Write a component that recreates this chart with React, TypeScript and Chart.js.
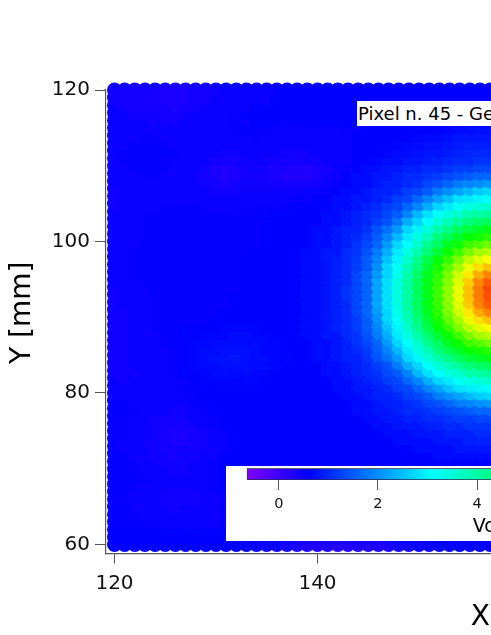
import React, { useEffect, useRef } from "react";
import { Chart, registerables } from "chart.js";

Chart.register(...registerables);

const xValues = [120,121,122,123,124,125,126,127,128,129,130,131,132,133,134,135,136,137,138,139,140,141,142,143,144,145,146,147,148,149,150,151,152,153,154,155,156,157];
const yValues = [120,119,118,117,116,115,114,113,112,111,110,109,108,107,106,105,104,103,102,101,100,99,98,97,96,95,94,93,92,91,90,89,88,87,86,85,84,83,82,81,80,79,78,77,76,75,74,73,72,71,70,69,68,67,66,65,64,63,62,61,60];
// One row per entry of yValues, one value per entry of xValues (volts).
const voltageRows = [
[.45,.4,.4,.4,.4,.35,.35,.35,.4,.4,.45,.5,.5,.5,.5,.5,.55,.6,.6,.6,.6,.6,.6,.6,.6,.6,.6,.6,.6,.6,.6,.6,.6,.6,.6,.6,.6,.6],
[.45,.4,.4,.4,.4,.35,.35,.35,.4,.4,.5,.5,.5,.5,.5,.5,.6,.6,.6,.6,.6,.6,.6,.6,.6,.6,.6,.6,.6,.6,.6,.6,.6,.6,.6,.6,.6,.6],
[.5,.45,.4,.4,.4,.4,.35,.4,.45,.5,.5,.5,.5,.5,.6,.6,.6,.6,.6,.6,.6,.6,.6,.6,.6,.6,.6,.6,.6,.6,.6,.6,.6,.6,.6,.6,.6,.6],
[.5,.5,.45,.45,.45,.4,.4,.45,.5,.5,.5,.5,.55,.6,.6,.6,.6,.6,.6,.6,.6,.6,.6,.6,.6,.6,.6,.6,.6,.6,.6,.6,.6,.6,.6,.6,.65,.65],
[.5,.5,.5,.5,.45,.45,.45,.5,.5,.5,.5,.5,.55,.55,.6,.6,.6,.55,.55,.55,.55,.6,.6,.6,.6,.6,.6,.6,.6,.6,.6,.6,.6,.65,.65,.7,.7,.7],
[.5,.5,.5,.5,.5,.5,.5,.5,.5,.5,.5,.5,.55,.55,.55,.55,.5,.5,.5,.5,.5,.5,.5,.55,.55,.6,.6,.6,.6,.6,.6,.6,.6,.65,.7,.7,.75,.75],
[.5,.5,.5,.55,.55,.5,.5,.5,.5,.5,.5,.5,.5,.5,.55,.5,.5,.5,.5,.5,.5,.5,.5,.5,.6,.6,.6,.6,.6,.6,.65,.7,.7,.75,.8,.8,.8,.8],
[.5,.5,.55,.55,.55,.55,.5,.5,.5,.5,.5,.5,.5,.5,.5,.5,.5,.5,.5,.5,.5,.5,.5,.5,.6,.6,.6,.6,.65,.7,.7,.75,.75,.8,.85,.9,.9,.9],
[.5,.55,.55,.55,.55,.55,.55,.5,.5,.5,.5,.45,.45,.5,.5,.5,.5,.45,.45,.45,.5,.5,.5,.5,.6,.6,.6,.65,.7,.7,.75,.8,.8,.85,.9,.95,1,1],
[.5,.55,.55,.55,.55,.55,.5,.5,.5,.5,.4,.4,.4,.45,.5,.45,.4,.4,.4,.4,.4,.5,.5,.5,.6,.6,.65,.7,.7,.8,.8,.85,.9,.95,1,1,1.1,1.1],
[.5,.5,.55,.55,.55,.55,.5,.5,.5,.45,.35,.3,.35,.4,.45,.4,.35,.35,.3,.3,.35,.4,.5,.55,.6,.7,.7,.8,.8,.9,.9,1,1,1.1,1.2,1.2,1.3,1.3],
[.5,.5,.5,.55,.55,.5,.5,.5,.5,.4,.35,.3,.35,.4,.4,.4,.35,.3,.3,.3,.35,.45,.5,.6,.7,.7,.8,.8,.9,1,1,1.1,1.2,1.3,1.4,1.5,1.6,1.6],
[.5,.5,.5,.5,.5,.5,.5,.5,.5,.45,.4,.35,.4,.45,.45,.45,.4,.4,.4,.4,.4,.5,.55,.6,.7,.7,.8,.9,.9,1,1.1,1.3,1.4,1.6,1.8,1.9,2,2.1],
[.45,.5,.5,.5,.5,.5,.5,.5,.5,.5,.45,.45,.45,.5,.5,.5,.5,.5,.5,.5,.5,.55,.6,.7,.7,.8,.9,.9,1,1.2,1.3,1.5,1.8,2,2.2,2.4,2.6,2.7],
[.45,.5,.5,.5,.5,.5,.5,.5,.5,.5,.5,.5,.5,.5,.5,.5,.5,.5,.55,.55,.6,.6,.7,.7,.8,.8,.9,1,1.2,1.3,1.6,1.9,2.2,2.5,2.8,2.9,3,3.1],
[.45,.5,.5,.5,.5,.55,.55,.55,.55,.5,.5,.5,.5,.5,.55,.55,.55,.55,.6,.6,.6,.65,.7,.7,.8,.9,1,1.2,1.3,1.6,1.9,2.3,2.7,2.9,3.2,3.4,3.5,3.6],
[.5,.5,.5,.55,.55,.55,.55,.55,.55,.55,.55,.55,.55,.55,.55,.55,.6,.6,.6,.6,.6,.7,.7,.8,.9,1,1.1,1.3,1.5,1.9,2.4,2.8,3.1,3.4,3.6,3.9,4,4.1],
[.5,.5,.5,.55,.55,.55,.55,.55,.55,.55,.55,.55,.55,.55,.55,.6,.6,.6,.6,.6,.6,.7,.7,.8,.9,1,1.2,1.4,1.8,2.3,2.7,3.1,3.5,3.8,4.1,4.4,4.6,4.7],
[.5,.5,.5,.55,.55,.55,.55,.55,.55,.55,.55,.55,.55,.55,.55,.6,.6,.6,.6,.6,.7,.7,.8,.9,.9,1.1,1.4,1.7,2.1,2.7,3,3.5,3.9,4.3,4.7,5,5.2,5.4],
[.5,.5,.5,.55,.55,.55,.55,.55,.55,.55,.55,.55,.55,.55,.55,.6,.6,.6,.6,.6,.7,.7,.8,.9,1,1.2,1.5,1.9,2.4,2.9,3.4,3.8,4.4,4.8,5.2,5.6,5.8,6],
[.5,.5,.5,.55,.55,.55,.55,.55,.55,.55,.55,.55,.55,.55,.55,.6,.6,.6,.6,.6,.7,.7,.8,.9,1.1,1.3,1.6,2.1,2.7,3.1,3.6,4.2,4.7,5.3,5.7,6.2,6.4,6.7],
[.5,.5,.55,.55,.55,.55,.55,.55,.55,.55,.55,.55,.55,.55,.6,.6,.6,.6,.6,.7,.7,.8,.8,1,1.1,1.4,1.8,2.3,2.9,3.4,3.9,4.5,5.1,5.7,6.2,6.8,7.2,7.4],
[.5,.5,.55,.55,.55,.55,.55,.55,.55,.55,.55,.55,.55,.6,.6,.6,.6,.6,.6,.7,.7,.8,.9,1,1.2,1.5,1.9,2.5,3,3.6,4.2,4.9,5.5,6.1,6.8,7.4,7.8,8.1],
[.5,.5,.55,.55,.55,.55,.55,.55,.55,.55,.55,.55,.55,.6,.6,.6,.6,.6,.6,.7,.7,.8,.9,1,1.2,1.5,2,2.7,3.2,3.8,4.4,5.1,5.8,6.5,7.2,7.9,8.4,8.7],
[.5,.5,.55,.55,.55,.55,.55,.55,.55,.55,.55,.55,.55,.6,.6,.6,.6,.6,.6,.7,.7,.8,.9,1,1.3,1.6,2.1,2.7,3.3,3.9,4.6,5.3,6,6.8,7.6,8.3,8.9,9.3],
[.5,.5,.5,.55,.55,.55,.55,.55,.55,.55,.55,.55,.55,.6,.6,.6,.6,.6,.6,.7,.7,.8,.9,1,1.3,1.6,2.2,2.8,3.4,4,4.7,5.4,6.1,6.9,7.8,8.6,9.3,9.7],
[.45,.5,.5,.5,.55,.55,.55,.55,.55,.55,.55,.55,.55,.6,.6,.6,.6,.6,.6,.7,.7,.8,.9,1.1,1.3,1.6,2.2,2.8,3.4,4,4.7,5.4,6.2,7,7.9,8.7,9.4,9.9],
[.45,.5,.5,.5,.55,.55,.55,.55,.55,.55,.55,.55,.6,.6,.6,.6,.6,.6,.6,.7,.7,.8,.9,1.1,1.3,1.6,2.2,2.8,3.4,4,4.7,5.4,6.2,7,7.9,8.7,9.4,9.8],
[.45,.5,.5,.5,.55,.55,.55,.55,.55,.55,.55,.55,.6,.6,.6,.6,.6,.6,.6,.7,.7,.8,.9,1,1.3,1.6,2.2,2.8,3.4,4,4.7,5.4,6.1,6.9,7.8,8.6,9.3,9.7],
[.45,.45,.5,.5,.55,.55,.55,.55,.55,.55,.55,.6,.6,.6,.6,.6,.6,.6,.6,.7,.7,.8,.9,1,1.3,1.6,2.1,2.7,3.3,3.9,4.6,5.3,6,6.8,7.6,8.3,8.9,9.3],
[.45,.45,.5,.5,.55,.55,.55,.55,.55,.55,.6,.6,.6,.6,.6,.6,.6,.6,.6,.7,.7,.8,.9,1,1.2,1.5,2,2.7,3.2,3.8,4.4,5.1,5.8,6.5,7.2,7.9,8.4,8.7],
[.45,.45,.5,.5,.55,.55,.55,.6,.6,.6,.6,.65,.65,.65,.65,.6,.6,.6,.6,.7,.7,.8,.9,1,1.2,1.5,1.9,2.5,3,3.6,4.2,4.9,5.5,6.1,6.8,7.4,7.8,8.1],
[.45,.45,.5,.5,.5,.55,.55,.6,.6,.65,.65,.65,.7,.7,.65,.65,.6,.6,.6,.7,.7,.8,.8,1,1.1,1.4,1.8,2.3,2.9,3.4,3.9,4.5,5.1,5.7,6.2,6.8,7.2,7.4],
[.45,.45,.5,.5,.5,.55,.55,.6,.65,.65,.7,.7,.7,.7,.7,.65,.65,.6,.6,.6,.7,.7,.8,.9,1.1,1.3,1.6,2.1,2.7,3.1,3.6,4.2,4.7,5.3,5.7,6.2,6.4,6.7],
[.45,.45,.5,.5,.5,.5,.55,.6,.65,.7,.7,.75,.75,.75,.7,.65,.65,.6,.6,.6,.7,.7,.8,.9,1,1.2,1.5,1.9,2.4,2.9,3.4,3.8,4.4,4.8,5.2,5.6,5.8,6],
[.45,.45,.5,.5,.5,.5,.55,.6,.65,.7,.75,.75,.8,.75,.7,.7,.65,.65,.6,.6,.7,.7,.8,.9,.9,1.1,1.4,1.7,2.1,2.7,3,3.5,3.9,4.3,4.7,5,5.2,5.4],
[.45,.45,.5,.5,.5,.5,.55,.6,.65,.7,.7,.75,.75,.75,.7,.7,.65,.6,.6,.6,.6,.7,.7,.8,.9,1,1.2,1.4,1.8,2.3,2.7,3.1,3.5,3.8,4.1,4.4,4.6,4.7],
[.45,.45,.45,.5,.5,.5,.55,.6,.6,.65,.7,.7,.7,.7,.65,.65,.6,.6,.6,.6,.6,.7,.7,.8,.9,1,1.1,1.3,1.5,1.9,2.4,2.8,3.1,3.4,3.6,3.9,4,4.1],
[.5,.45,.5,.5,.5,.5,.5,.55,.6,.6,.65,.65,.65,.65,.65,.6,.6,.6,.6,.6,.6,.6,.7,.7,.8,.9,1,1.2,1.3,1.6,1.9,2.3,2.7,2.9,3.2,3.4,3.5,3.6],
[.5,.5,.5,.5,.5,.5,.5,.55,.55,.6,.6,.6,.6,.6,.6,.6,.6,.6,.6,.6,.6,.6,.7,.7,.8,.8,.9,1,1.2,1.3,1.6,1.9,2.2,2.5,2.8,2.9,3,3.1],
[.5,.5,.5,.5,.5,.5,.5,.55,.55,.6,.6,.6,.6,.6,.6,.6,.6,.6,.6,.6,.6,.6,.6,.7,.7,.8,.9,.9,1,1.2,1.3,1.5,1.8,2,2.2,2.4,2.6,2.7],
[.55,.55,.5,.5,.5,.5,.5,.5,.55,.55,.6,.6,.6,.6,.6,.6,.6,.6,.6,.6,.6,.6,.6,.6,.7,.7,.8,.9,.9,1,1.1,1.3,1.4,1.6,1.8,1.9,2,2.1],
[.55,.55,.55,.5,.5,.5,.45,.45,.5,.55,.6,.6,.6,.6,.6,.6,.6,.6,.6,.6,.6,.6,.6,.6,.7,.7,.8,.8,.9,1,1,1.1,1.2,1.3,1.4,1.5,1.6,1.6],
[.55,.55,.5,.5,.45,.45,.45,.45,.5,.5,.55,.6,.6,.6,.6,.6,.6,.6,.6,.6,.6,.6,.6,.6,.6,.7,.7,.8,.8,.9,.9,1,1,1.1,1.2,1.2,1.3,1.3],
[.55,.55,.5,.5,.45,.4,.4,.4,.45,.5,.55,.6,.6,.6,.6,.6,.6,.6,.6,.6,.6,.6,.6,.6,.6,.6,.7,.7,.8,.8,.8,.9,.9,1,1,1.1,1.1,1.1],
[.55,.55,.5,.5,.45,.4,.35,.35,.4,.45,.5,.55,.6,.6,.6,.6,.6,.6,.6,.6,.6,.6,.6,.6,.6,.6,.6,.7,.7,.7,.8,.8,.8,.9,.9,.9,1,1],
[.55,.5,.5,.5,.45,.4,.35,.35,.4,.45,.5,.55,.6,.6,.6,.6,.6,.6,.6,.6,.6,.6,.6,.6,.6,.6,.6,.6,.7,.7,.7,.7,.8,.8,.8,.9,.9,.9],
[.55,.5,.5,.5,.45,.4,.4,.4,.4,.45,.5,.55,.6,.6,.6,.6,.6,.6,.6,.6,.6,.6,.6,.6,.6,.6,.6,.6,.6,.6,.7,.7,.7,.7,.8,.8,.8,.8],
[.55,.55,.5,.5,.45,.45,.4,.45,.45,.5,.5,.6,.6,.6,.6,.6,.6,.6,.6,.6,.6,.6,.6,.6,.6,.6,.6,.6,.6,.6,.6,.6,.7,.7,.7,.7,.7,.7],
[.55,.55,.55,.5,.5,.45,.45,.45,.5,.5,.55,.6,.6,.6,.6,.6,.6,.6,.6,.6,.6,.6,.6,.6,.6,.6,.6,.6,.6,.6,.6,.6,.6,.6,.6,.6,.6,.6],
[.55,.55,.55,.5,.5,.5,.45,.45,.5,.5,.55,.6,.6,.6,.6,.6,.6,.6,.6,.6,.6,.6,.6,.6,.6,.6,.6,.6,.6,.6,.6,.6,.6,.6,.6,.6,.6,.6],
[.55,.55,.55,.55,.5,.5,.5,.5,.5,.5,.55,.6,.6,.6,.6,.6,.6,.6,.6,.6,.6,.6,.6,.6,.6,.6,.6,.6,.6,.6,.6,.6,.6,.6,.6,.6,.6,.6],
[.55,.55,.55,.5,.5,.5,.5,.5,.5,.5,.55,.6,.6,.6,.6,.6,.6,.6,.6,.6,.6,.6,.6,.6,.6,.6,.6,.6,.6,.6,.6,.6,.6,.6,.6,.6,.6,.6],
[.55,.55,.5,.5,.5,.45,.45,.45,.45,.5,.5,.55,.6,.6,.6,.6,.6,.6,.6,.6,.6,.6,.6,.6,.6,.6,.6,.6,.6,.6,.6,.6,.6,.6,.6,.6,.6,.6],
[.55,.55,.5,.5,.5,.45,.45,.45,.45,.5,.5,.55,.6,.6,.6,.6,.6,.6,.6,.6,.6,.6,.6,.6,.6,.6,.6,.6,.6,.6,.6,.6,.6,.6,.6,.6,.6,.6],
[.55,.55,.55,.5,.5,.5,.45,.5,.5,.5,.5,.55,.6,.6,.6,.6,.6,.6,.6,.6,.6,.6,.6,.6,.6,.6,.6,.6,.6,.6,.6,.6,.6,.6,.6,.6,.6,.6],
[.55,.55,.55,.5,.5,.5,.5,.5,.5,.5,.5,.55,.6,.6,.6,.6,.6,.6,.6,.6,.6,.6,.6,.6,.6,.6,.6,.6,.6,.6,.6,.6,.6,.6,.6,.6,.6,.6],
[.55,.55,.55,.55,.55,.5,.5,.5,.5,.5,.5,.55,.6,.6,.6,.6,.6,.6,.6,.6,.6,.6,.6,.6,.6,.6,.6,.6,.6,.6,.6,.6,.6,.6,.6,.6,.6,.6],
[.6,.6,.6,.6,.6,.6,.6,.6,.6,.6,.6,.6,.6,.6,.6,.6,.6,.6,.6,.6,.6,.6,.6,.6,.6,.6,.6,.6,.6,.6,.6,.6,.6,.6,.6,.6,.6,.6],
[.6,.6,.6,.6,.6,.6,.6,.6,.6,.6,.6,.6,.6,.6,.55,.5,.5,.45,.4,.4,.35,.35,.35,.35,.4,.4,.4,.45,.5,.5,.5,.55,.6,.6,.6,.6,.6,.6],
[.6,.6,.6,.6,.6,.6,.6,.6,.6,.6,.6,.6,.6,.6,.55,.5,.5,.4,.35,.3,.3,.3,.25,.25,.3,.3,.3,.35,.4,.45,.5,.5,.55,.6,.6,.6,.6,.6],
];
const xTicks = [120, 140, 160, 180, 200];
const yTicks = [60, 80, 100, 120];
const colorbarTicks = [0, 2, 4, 6, 8, 10];
const colorStops = [
  { z: -0.65, rgb: [128, 0, 255] },
  { z: 0.6, rgb: [0, 0, 255] },
  { z: 3.1, rgb: [0, 255, 255] },
  { z: 5.6, rgb: [0, 255, 0] },
  { z: 8.1, rgb: [255, 255, 0] },
  { z: 10.6, rgb: [255, 0, 0] },
];
const annotation = "Pixel n. 45 - Ge";
const FONT = "'DejaVu Sans'";
const AXIS_GRAY = "#555555";

function colorOf(z: number) {
  for (let i = 1; i < colorStops.length; i++) {
    const a = colorStops[i - 1];
    const b = colorStops[i];
    if (z <= b.z) {
      const t = Math.max(0, (z - a.z) / (b.z - a.z));
      const c = a.rgb.map((v, k) => Math.round(v + (b.rgb[k] - v) * t));
      return `rgb(${c[0]},${c[1]},${c[2]})`;
    }
  }
  return "rgb(255,0,0)";
}

export default function App() {
  const mainRef = useRef<HTMLCanvasElement>(null);
  const barRef = useRef<HTMLCanvasElement>(null);

  useEffect(() => {
    const points: { x: number; y: number; v: number }[] = [];
    for (let r = yValues.length - 1; r >= 0; r--) {
      xValues.forEach((x, c) => points.push({ x, y: yValues[r], v: voltageRows[r][c] }));
    }
    const main = new Chart(mainRef.current!, {
      type: "scatter",
      data: {
        datasets: [{
          data: points,
          pointRadius: 7.5,
          pointHoverRadius: 7.5,
          pointBorderWidth: 0,
          pointBackgroundColor: points.map((p) => colorOf(p.v)),
          clip: false,
        }],
      },
      options: {
        responsive: false,
        animation: false,
        layout: { padding: { top: 90, right: 20, left: 0, bottom: 0 } },
        plugins: { legend: { display: false }, tooltip: { enabled: false } },
        scales: {
          x: {
            type: "linear",
            min: 119.163,
            max: 201.33,
            afterFit: (s: any) => { s.height = 81.5; },
            afterBuildTicks: (s: any) => { s.ticks = xTicks.map((value) => ({ value })); },
            border: { display: true, color: AXIS_GRAY, width: 1.2 },
            grid: { drawOnChartArea: false, drawTicks: true, tickLength: 10, tickColor: AXIS_GRAY },
            ticks: { color: "#111", font: { family: FONT, size: 20 }, padding: 8, maxRotation: 0, autoSkip: false },
            title: { display: true, text: "X [mm]", color: "#000", font: { family: FONT, size: 28 }, padding: { top: 0, bottom: 0 } },
          },
          y: {
            type: "linear",
            min: 58.81,
            max: 120,
            afterFit: (s: any) => { s.width = 106; },
            afterBuildTicks: (s: any) => { s.ticks = yTicks.map((value) => ({ value })); },
            border: { display: true, color: AXIS_GRAY, width: 1.2 },
            grid: { drawOnChartArea: false, drawTicks: true, tickLength: 11, tickColor: AXIS_GRAY },
            ticks: { color: "#111", font: { family: FONT, size: 20 }, padding: 5, autoSkip: false },
            title: { display: true, text: "\u00a0\u00a0Y [mm]", color: "#000", font: { family: FONT, size: 28 }, padding: { top: 6, bottom: 0 } },
          },
        },
      },
    } as any);

    const bar = new Chart(barRef.current!, {
      type: "bar",
      data: {
        labels: ["colour scale"],
        datasets: [{
          data: [[colorStops[0].z, colorStops[colorStops.length - 1].z]],
          barPercentage: 1,
          categoryPercentage: 1,
          borderColor: "#2a2a55",
          borderWidth: 1,
          borderSkipped: false,
          backgroundColor: (ctx: any) => {
            const area = ctx.chart.chartArea;
            if (!area) return "#0000ff";
            const g = ctx.chart.ctx.createLinearGradient(area.left, 0, area.right, 0);
            const lo = colorStops[0].z;
            const hi = colorStops[colorStops.length - 1].z;
            colorStops.forEach((s) => g.addColorStop((s.z - lo) / (hi - lo), colorOf(s.z)));
            return g;
          },
        }],
      },
      options: {
        indexAxis: "y",
        responsive: false,
        animation: false,
        layout: { padding: { top: 2.3, left: 20.7, right: 122, bottom: 0 } },
        plugins: { legend: { display: false }, tooltip: { enabled: false } },
        scales: {
          y: { type: "category", display: false },
          x: {
            type: "linear",
            min: colorStops[0].z,
            max: colorStops[colorStops.length - 1].z,
            afterFit: (s: any) => { s.height = 61; },
            afterBuildTicks: (s: any) => { s.ticks = colorbarTicks.map((value) => ({ value })); },
            border: { display: false },
            grid: { drawOnChartArea: false, drawTicks: true, tickLength: 10, tickColor: AXIS_GRAY },
            ticks: { color: "#111", font: { family: FONT, size: 14.5 }, padding: 6, maxRotation: 0, autoSkip: false },
            title: { display: true, text: "Voltage [V]", color: "#000", font: { family: FONT, size: 19 }, padding: { top: 0, bottom: 3 } },
          },
        },
      },
    } as any);

    return () => {
      main.destroy();
      bar.destroy();
    };
  }, []);

  return (
    <div style={{ position: "fixed", left: 0, top: 0, width: 491, height: 635, overflow: "hidden", background: "#fff" }}>
      <canvas ref={mainRef} width={960} height={635} style={{ position: "absolute", left: 0, top: 0, width: 960, height: 635 }} />
      <div style={{ position: "absolute", left: 357, top: 100.5, height: 25.5, width: 300, background: "#fff", color: "#000", fontFamily: FONT, fontSize: 18, lineHeight: "25.5px", whiteSpace: "nowrap", paddingLeft: 1 }}>{annotation}</div>
      <div style={{ position: "absolute", left: 226, top: 466, width: 700, height: 75, background: "#fff" }}>
        <canvas ref={barRef} width={700} height={75} style={{ position: "absolute", left: 0, top: 0, width: 700, height: 75 }} />
      </div>
    </div>
  );
}
